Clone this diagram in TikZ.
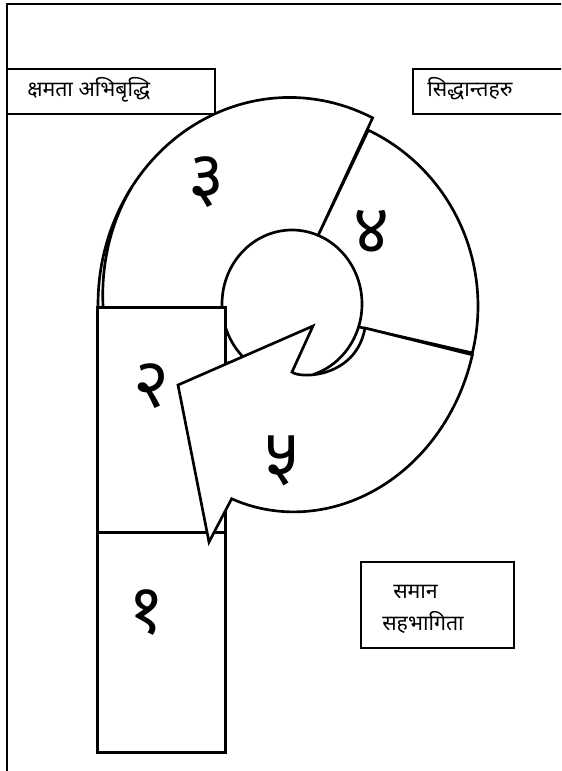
\documentclass[tikz,border=0pt]{standalone}
\usepackage{fontspec}
\newfontfamily\devfont[Script=Devanagari]{Noto Sans}
\newfontfamily\numfont[Script=Devanagari,Language=Nepali]{Noto Sans}
\begin{document}
\begin{tikzpicture}[x=0.75pt,y=-0.75pt,
  ring/.style={draw=black,fill=white,line width=2pt,line join=miter},
  ringline/.style={draw=black,line width=2pt},
  blockrect/.style={draw=black,fill=white,line width=2.25pt},
  txtbox/.style={draw=black,line width=1.5pt},
  frameline/.style={draw=black,line width=1.5pt},
  txt/.style={font=\devfont\fontsize{16}{19}\selectfont,inner sep=0pt},
  num/.style={font=\numfont\bfseries\fontsize{52}{58}\selectfont,inner sep=0pt}]
\clip (0,0) rectangle (561,771);
\path[use as bounding box] (0,0) rectangle (561,771);
% frame
\draw[frameline] (7,800) -- (7,4) -- (600,4);
% text boxes
\draw[txtbox] (7,69) rectangle (215,114);
\draw[txtbox] (413,69) rectangle (600,114);
\draw[txtbox] (361,562) rectangle (514,648);
% segment 3
\draw[ring] plot[domain=64:200,samples=70,variable=\a] ({288+190*(1+0.016*max(0,180-\a)/116)*cos(\a)},{306-206*(1+0.016*max(0,180-\a)/116)*sin(\a)})
  -- plot[domain=230:68,samples=60,variable=\a] ({292+70*cos(\a)},{304-74*sin(\a)}) -- cycle;
\draw[ringline] plot[domain=145:182,samples=30,variable=\a] ({288+(190*(1+0.016*(180-\a)/116)-5*(\a-145)/35)*cos(\a)},{306-206*(1+0.016*(180-\a)/116)*sin(\a)});
% segment 4
\draw[ring] plot[domain=65:-14,samples=60,variable=\a] ({288+190*cos(\a)},{306-194*sin(\a)})
  -- plot[domain=-18:68,samples=60,variable=\a] ({292+70*cos(\a)},{304-74*sin(\a)}) -- cycle;
\draw[ringline] plot[domain=-18:-72,samples=30,variable=\a] ({292+70*cos(\a)},{304-74*sin(\a)});
% rectangles
\draw[blockrect] (97,307) rectangle (225,532);
\draw[blockrect] (97,532) rectangle (225,752);
% segment 5 (arrow)
\draw[ring] plot[domain=0:1,samples=80,variable=\t] ({288+190*(1-0.037*\t^4)*cos(-14-94*\t)},{305+5*\t-206*(1-0.037*\t^4)*sin(-14-94*\t)})
  -- (209,542) -- (178,385) -- (313,326) -- (292,372) .. controls (300,379) and (356,378) .. (365,328) -- cycle;
% numbers
\node[num] (n3) at (207,182) {३};
\node[num] (n4) at (372,232) {४};
\node[num] (n2) at (152,386) {२};
\node[num] (n5) at (282,461) {५};
\node[num] (n1) at (147,612) {१};
% texts
\node[txt,anchor=base west] (t1) at (27,96) {क्षमता अभिबृद्धि};
\node[txt,anchor=base west] (t2) at (427,96) {सिद्धान्तहरु};
\node[txt,anchor=base west] (t3) at (393,598) {समान};
\node[txt,anchor=base west] (t4) at (382,630) {सहभागिता};
\end{tikzpicture}
\end{document}
